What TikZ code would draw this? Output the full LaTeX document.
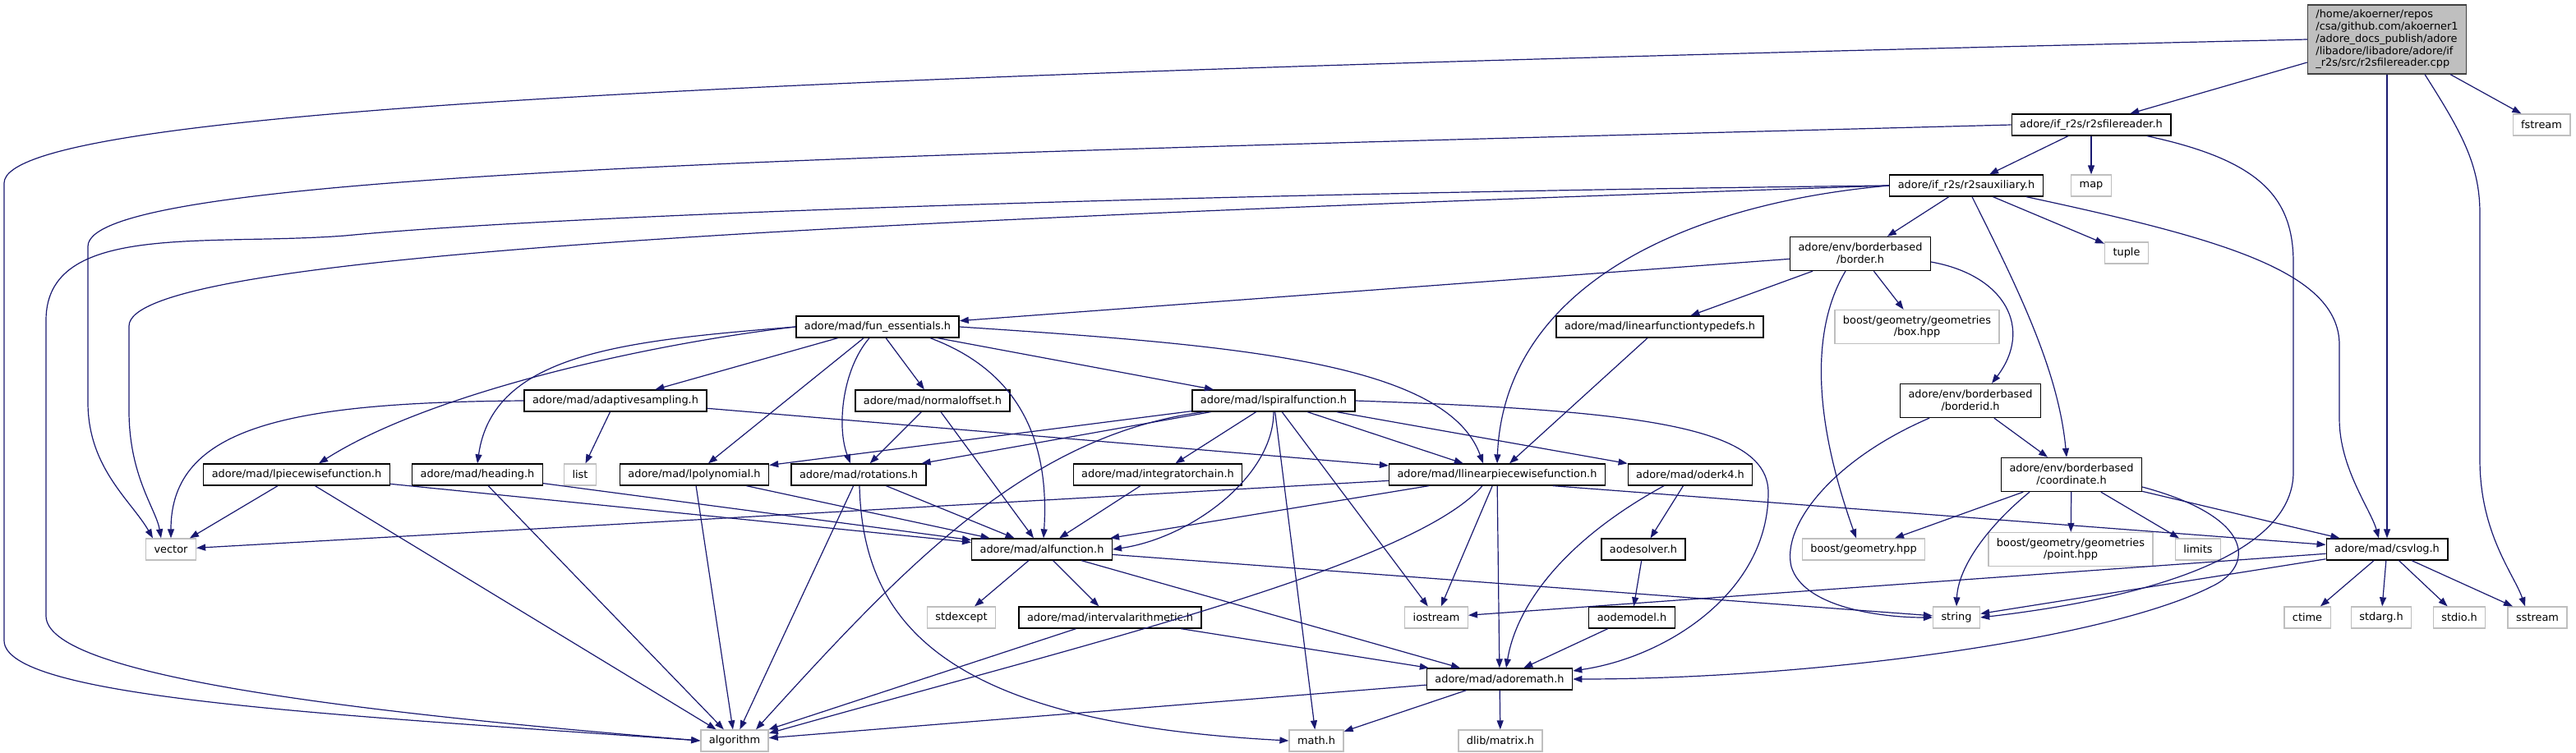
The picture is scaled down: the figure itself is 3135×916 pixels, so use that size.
\documentclass[tikz,border=0pt]{standalone}
\usepackage{fontspec}
\setmainfont{DejaVu Sans}
\usetikzlibrary{arrows.meta}
\definecolor{incblue}{HTML}{191970}
\definecolor{sysgray}{HTML}{BFBFBF}
\definecolor{srcline}{HTML}{404040}

\begin{document}
\begin{tikzpicture}[x=1pt, y=-1pt,
		hnode/.style={draw=black, line width=1.3pt, fill=white, inner xsep=10pt, inner ysep=0pt,
			minimum height=26pt, align=center, font=\fontsize{12.9}{14.8}\selectfont},
		snode/.style={hnode, draw=sysgray},
		tall/.style={minimum height=41pt},
		cppnode/.style={hnode, draw=srcline, fill=sysgray, align=left, minimum height=84pt},
		arr/.style={draw=incblue, line width=1.2pt, -{Triangle[length=11pt, width=8pt]}}
		]
		\useasboundingbox (0,0) rectangle (3135,916);

		\node[cppnode] (cpp) at (2905,48) {/home/akoerner/repos\\/csa/github.com/akoerner1\\/adore\_docs\_publish/adore\\/libadore/libadore/adore/if\\\_r2s/src/r2sfilereader.cpp};
		\node[hnode] (rfr) at (2545,152) {adore/if\_r2s/r2sfilereader.h};
		\node[snode] (fstream) at (3093,152) {fstream};
		\node[hnode] (raux) at (2393,226) {adore/if\_r2s/r2sauxiliary.h};
		\node[snode] (map) at (2545,226) {map};
		\node[hnode, tall] (border) at (2264,309) {adore/env/borderbased\\/border.h};
		\node[snode] (tuple) at (2588,308) {tuple};
		\node[hnode] (funess) at (1068,398) {adore/mad/fun\_essentials.h};
		\node[hnode] (lftd) at (2020,398) {adore/mad/linearfunctiontypedefs.h};
		\node[snode, tall] (box) at (2333,398) {boost/geometry/geometries\\/box.hpp};
		\node[hnode] (adapt) at (749,488) {adore/mad/adaptivesampling.h};
		\node[hnode] (normoff) at (1135,488) {adore/mad/normaloffset.h};
		\node[hnode] (lspiral) at (1550,488) {adore/mad/lspiralfunction.h};
		\node[hnode, tall] (borderid) at (2398,488) {adore/env/borderbased\\/borderid.h};
		\node[hnode] (lpiece) at (361,578) {adore/mad/lpiecewisefunction.h};
		\node[hnode] (heading) at (581,578) {adore/mad/heading.h};
		\node[snode] (list) at (706,578) {list};
		\node[hnode] (lpoly) at (845,578) {adore/mad/lpolynomial.h};
		\node[hnode] (rot) at (1045,578) {adore/mad/rotations.h};
		\node[hnode] (integ) at (1409,578) {adore/mad/integratorchain.h};
		\node[hnode] (llin) at (1822,578) {adore/mad/llinearpiecewisefunction.h};
		\node[hnode] (oderk) at (2057,578) {adore/mad/oderk4.h};
		\node[hnode, tall] (coord) at (2521,578) {adore/env/borderbased\\/coordinate.h};
		\node[snode] (vector) at (208,669) {vector};
		\node[hnode] (alfun) at (1268,669) {adore/mad/alfunction.h};
		\node[hnode] (aodes) at (2000,669) {aodesolver.h};
		\node[snode] (bgeo) at (2268,669) {boost/geometry.hpp};
		\node[snode, tall] (point) at (2520,669) {boost/geometry/geometries\\/point.hpp};
		\node[snode] (limits) at (2675,669) {limits};
		\node[hnode] (csvlog) at (2905,669) {adore/mad/csvlog.h};
		\node[snode] (stdexc) at (1170,752) {stdexcept};
		\node[hnode] (interval) at (1351,752) {adore/mad/intervalarithmetic.h};
		\node[snode] (iostream) at (1748,752) {iostream};
		\node[hnode] (aodem) at (1986,752) {aodemodel.h};
		\node[snode] (string) at (2381,752) {string};
		\node[snode] (ctime) at (2808,752) {ctime};
		\node[snode] (stdarg) at (2898,752) {stdarg.h};
		\node[snode] (stdio) at (2993,752) {stdio.h};
		\node[snode] (sstream) at (3088,752) {sstream};
		\node[hnode] (adoremath) at (1825,827) {adore/mad/adoremath.h};
		\node[snode] (algorithm) at (894,902) {algorithm};
		\node[snode] (math) at (1602,902) {math.h};
		\node[snode] (dlib) at (1826,902) {dlib/matrix.h};

		\foreach \s/\t in {cpp/rfr, cpp/fstream, cpp/csvlog, rfr/raux, rfr/map, raux/border, raux/tuple,
			border/funess, border/lftd, border/box, lftd/llin, funess/adapt, funess/lpoly, funess/normoff,
			funess/lspiral, adapt/list, adapt/llin, normoff/rot, normoff/alfun, lspiral/lpoly, lspiral/rot,
			lspiral/integ, lspiral/llin, lspiral/oderk, lspiral/iostream, lspiral/math, borderid/coord,
			lpiece/vector, lpiece/algorithm, lpiece/alfun, heading/algorithm, heading/alfun, lpoly/algorithm,
			lpoly/alfun, rot/alfun, rot/algorithm, integ/alfun, llin/vector, llin/alfun, llin/iostream,
			llin/adoremath, oderk/aodes, coord/bgeo, coord/point, coord/limits, coord/csvlog, alfun/stdexc,
			alfun/interval, alfun/adoremath, alfun/string, aodes/aodem, csvlog/iostream, csvlog/string,
			csvlog/ctime, csvlog/stdarg, csvlog/stdio, csvlog/sstream, interval/algorithm, interval/adoremath,
			aodem/adoremath, adoremath/algorithm, adoremath/math, adoremath/dlib}
		\draw[arr] (\s) -- (\t);

		\draw[arr] (cpp.west) .. controls (1000,90) and (5,130) .. (5,223) -- (5,780)
			.. controls (5,850) and (400,870) .. (algorithm.west);
		\draw[arr] ([xshift=46pt]cpp.south) .. controls (2995,160) and (3018,200) .. (3018,260) -- (3018,560)
			.. controls (3018,650) and (3060,700) .. ([xshift=-15pt]sstream.north);
		\draw[arr] (rfr.west) .. controls (1000,190) and (107,210) .. (107,300) -- (107,490)
			.. controls (107,570) and (160,610) .. ([xshift=-22pt]vector.north);
		\draw[arr] ([xshift=68pt]rfr.south) .. controls (2750,195) and (2791,240) .. (2791,320) -- (2791,575)
			.. controls (2791,680) and (2600,730) .. (string.east);
		\draw[arr] ([xshift=73pt]raux.south) .. controls (2700,290) and (2847,330) .. (2847,420) -- (2847,510)
			.. controls (2847,570) and (2885,620) .. ([xshift=-10pt]csvlog.north);
		\draw[arr] (raux.west) .. controls (2030,250) and (1830,360) .. (llin.north);
		\draw[arr] (raux.west) .. controls (1500,235) and (700,260) .. (420,287)
			.. controls (250,300) and (56,270) .. (56,390) -- (56,750)
			.. controls (56,820) and (400,865) .. (algorithm.west);
		\draw[arr] (raux.west) .. controls (1000,270) and (157,310) .. (157,397) -- (157,500)
			.. controls (157,580) and (190,620) .. ([xshift=-12pt]vector.north);
		\draw[arr] ([xshift=7pt]raux.south) .. controls (2455,350) and (2505,450) .. ([xshift=-6pt]coord.north);
		\draw[arr] ([xshift=-18pt]border.south) .. controls (2210,390) and (2200,490) .. ([xshift=-9pt]bgeo.north);
		\draw[arr] ([yshift=-10pt]border.east) .. controls (2440,335) and (2475,400) .. ([xshift=26pt]borderid.north);
		\draw[arr] (funess.west) .. controls (780,420) and (520,480) .. ([xshift=27pt]lpiece.north);
		\draw[arr] (funess.west) .. controls (760,415) and (600,430) .. (heading.north);
		\draw[arr] ([xshift=-10pt]funess.south) .. controls (1025,450) and (1018,520) .. ([xshift=-10pt]rot.north);
		\draw[arr] ([xshift=64pt]funess.south) .. controls (1235,450) and (1278,530) .. ([xshift=2pt]alfun.north);
		\draw[arr] (funess.east) .. controls (1500,420) and (1760,440) .. ([xshift=-17pt]llin.north);
		\draw[arr] (adapt.west) .. controls (350,490) and (208,520) .. (vector.north);
		\draw[arr] (lspiral.south) .. controls (1550,580) and (1450,655) .. (alfun.east);
		\draw[arr] ([xshift=-85pt]lspiral.south) .. controls (1250,530) and (1100,690) .. ([xshift=26pt]algorithm.north);
		\draw[arr] (lspiral.east) .. controls (2000,500) and (2152,520) .. (2152,600)
			.. controls (2152,720) and (2030,800) .. ([yshift=10pt]adoremath.east);
		\draw[arr] ([xshift=-50pt]borderid.south) .. controls (2230,560) and (2168,640) .. (2180,690)
			.. controls (2195,740) and (2290,752) .. (string.west);
		\draw[arr] ([xshift=-51pt]coord.south) .. controls (2420,640) and (2383,690) .. (string.north);
		\draw[arr] ([yshift=-15pt]coord.east) .. controls (2745,630) and (2745,690) .. (2690,715)
			.. controls (2560,780) and (2200,827) .. (adoremath.east);
		\draw[arr] ([xshift=1pt]rot.south) .. controls (1050,760) and (1150,880) .. (math.west);
		\draw[arr] ([xshift=-32pt]oderk.south) .. controls (1900,660) and (1845,740) .. ([xshift=8pt]adoremath.north);
		\draw[arr] ([xshift=-18pt]llin.south) .. controls (1720,690) and (1300,790) .. ([yshift=9pt]algorithm.east);
		\draw[arr] ([xshift=68pt]llin.south) -- (csvlog);
	\end{tikzpicture}
\end{document}
